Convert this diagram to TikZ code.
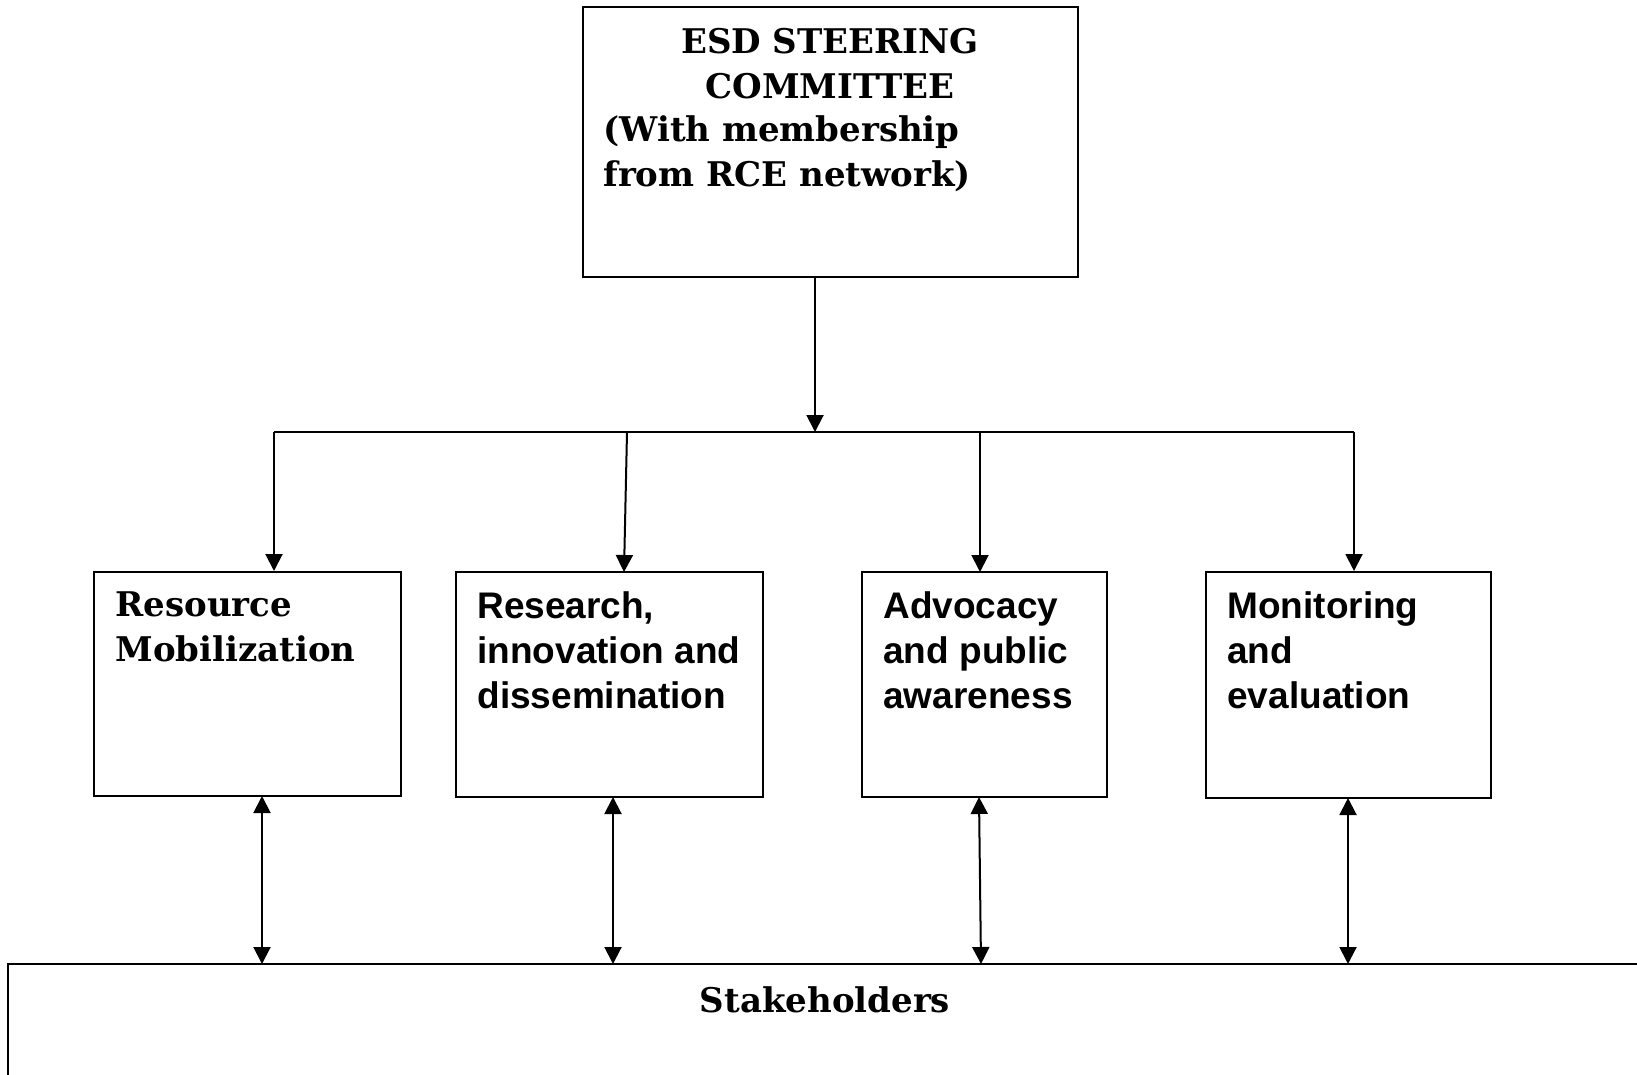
\documentclass[tikz,border=0pt]{standalone}
\usepackage{fontspec}
\newfontfamily\sansbold{Liberation Sans}
\newfontfamily\serifbold{DejaVu Serif}
\usetikzlibrary{arrows.meta, fit}

\begin{document}
\begin{tikzpicture}[x=0.5pt, y=-0.5pt,
    box/.style={draw, line width=1pt, inner sep=0pt},
    lbl/.style={anchor=base west, inner sep=0pt, align=left, font=\fontsize{17}{22.5}\selectfont\serifbold\bfseries},
    slbl/.style={anchor=base west, inner sep=0pt, align=left, font=\fontsize{18.5}{22.5}\selectfont\sansbold\bfseries},
    arr/.style={line width=1pt, -{Triangle[width=8.5pt,length=8.5pt]}},
    dbl/.style={line width=1pt, {Triangle[width=8.5pt,length=8.5pt]}-{Triangle[width=8.5pt,length=8.5pt]}}]
    \useasboundingbox (0,0) rectangle (1637,1075);
    \clip (0,0) rectangle (1637,1075);

    % boxes
    \node[box, fit={(583,7) (1078,277)}] (esd) {};
    \node[box, fit={(94,572) (401,796)}] (rm) {};
    \node[box, fit={(456,572) (763,797)}] (rid) {};
    \node[box, fit={(862,572) (1107,797)}] (apa) {};
    \node[box, fit={(1206,572) (1491,798)}] (me) {};
    \node[box, fit={(8,964) (1680,1120)}] (sh) {};

    % texts (base = last line)
    \node[lbl, anchor=base, align=center] (ttl) at (830,99) {ESD STEERING\\COMMITTEE};
    \node[lbl] (memb) at (603,187) {(With membership\\from RCE network)};
    \node[lbl] (rmt) at (115,661) {Resource\\Mobilization};
    \node[slbl] (ridt) at (477,708) {Research,\\innovation and\\dissemination};
    \node[slbl] (apat) at (883,708) {Advocacy\\and public\\awareness};
    \node[slbl] (met) at (1227,708) {Monitoring\\and\\evaluation};
    \node[lbl, anchor=base] (sht) at (825,1012) {Stakeholders};

    % bus
    \coordinate (bl) at (274,432);
    \coordinate (br) at (1354,432);
    \draw[line width=1pt] (bl) -- (br);
    \draw[arr] (esd.south -| 815,0) -- (815,432);
    \draw[arr] (bl) -- (bl |- rm.north);
    \draw[arr] (627,432) -- (624,572);
    \draw[arr] (980,432) -- (980,572);
    \draw[arr] (br) -- (br |- me.north);

    % links to stakeholders
    \draw[dbl] (262,796) -- (262,964);
    \draw[dbl] (613,797) -- (613,964);
    \draw[dbl] (979,797) -- (981,964);
    \draw[dbl] (1348,798) -- (1348,964);
\end{tikzpicture}
\end{document}
